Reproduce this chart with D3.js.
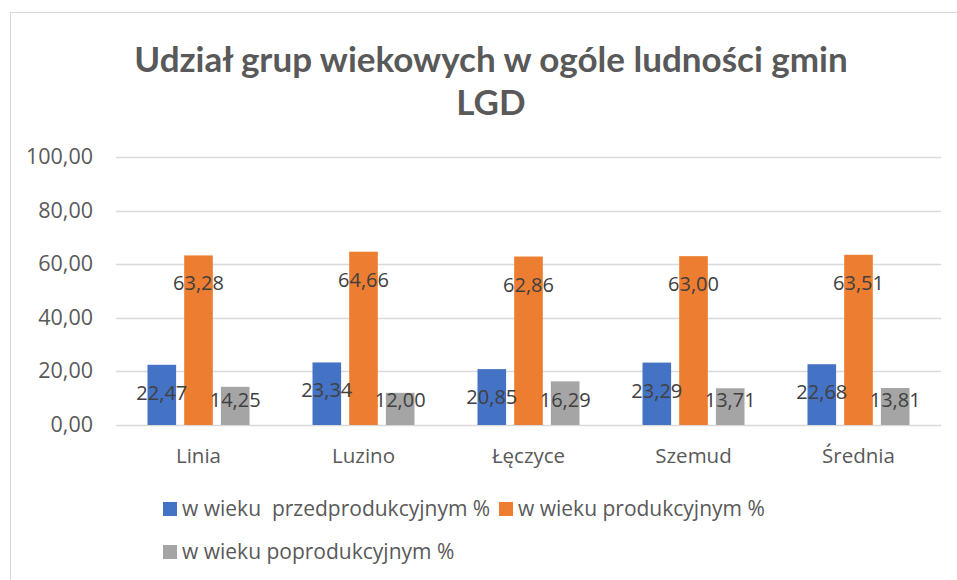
<!DOCTYPE html>
<html>
<head>
<meta charset="utf-8">
<script src="https://cdn.jsdelivr.net/npm/d3@7"></script>
<style>
  body { margin: 0; background: #fff; }
  text { white-space: pre; }
</style>
</head>
<body>
<div id="chart"></div>
<script>
// data
const categories = ['Linia', 'Luzino', 'Łęczyce', 'Szemud', 'Średnia'];
const seriesNames = ['w wieku  przedprodukcyjnym %', 'w wieku produkcyjnym %', 'w wieku poprodukcyjnym %'];
const przed = [22.47, 23.34, 20.85, 23.29, 22.68];
const prod = [63.28, 64.66, 62.86, 63.00, 63.51];
const poprod = [14.25, 12.00, 16.29, 13.71, 13.81];
const yTicks = [0, 20, 40, 60, 80, 100];
const colors = ['#4472C4', '#ED7D31', '#A5A5A5'];

const W = 957, H = 580;
const plot = {left: 116, right: 941, top: 157, bottom: 425};
const labelFont = '"Open Sans", "DejaVu Sans", sans-serif';

const values = [przed, prod, poprod];
const rows = categories.map((c, i) => ({
  cat: c,
  bars: seriesNames.map((s, j) => ({series: j, value: values[j][i]}))
}));

const fmt = v => v.toFixed(2).replace('.', ',');

const svg = d3.select('#chart')
  .append('svg')
  .attr('width', W)
  .attr('height', H);

// outer chart border
svg.append('rect')
  .attr('x', 10.5).attr('y', 12.5)
  .attr('width', W + 20).attr('height', H + 20)
  .attr('fill', '#fff')
  .attr('stroke', '#d9d9d9');

// title
const title = svg.append('text')
  .attr('text-anchor', 'middle')
  .attr('fill', '#595959')
  .attr('font-family', 'Lato, "Open Sans", sans-serif')
  .attr('font-weight', 'bold')
  .attr('font-size', '35px');
title.append('tspan').attr('x', 491).attr('y', 72).text('Udział grup wiekowych w ogóle ludności gmin');
title.append('tspan').attr('x', 491).attr('y', 115).text('LGD');

const x0 = d3.scaleBand()
  .domain(categories)
  .range([plot.left, plot.right]);

const x1 = d3.scaleBand()
  .domain(d3.range(seriesNames.length))
  .range([0, 102])
  .paddingInner(0.22);

const y = d3.scaleLinear()
  .domain([0, 100])
  .range([plot.bottom, plot.top]);

// gridlines
svg.append('g')
  .selectAll('line')
  .data(yTicks)
  .join('line')
    .attr('x1', plot.left).attr('x2', plot.right)
    .attr('y1', d => Math.round(y(d)) + 0.5)
    .attr('y2', d => Math.round(y(d)) + 0.5)
    .attr('stroke', '#d9d9d9')
    .attr('stroke-width', 1.5);

// y labels
svg.append('g')
  .selectAll('text')
  .data(yTicks)
  .join('text')
    .attr('x', 93)
    .attr('y', d => y(d) + 7)
    .attr('text-anchor', 'end')
    .attr('fill', '#595959')
    .attr('font-family', labelFont)
    .attr('font-size', '21.5px')
    .text(d => fmt(d));

// bars grouped by category
const groups = svg.append('g')
  .selectAll('g')
  .data(rows)
  .join('g')
    .attr('transform', d => `translate(${x0(d.cat) + (x0.bandwidth() - 102) / 2},0)`);

groups.selectAll('rect')
  .data(d => d.bars)
  .join('rect')
    .attr('x', d => x1(d.series))
    .attr('y', d => y(d.value))
    .attr('width', x1.bandwidth())
    .attr('height', d => y(0) - y(d.value))
    .attr('fill', d => colors[d.series]);

groups.selectAll('text')
  .data(d => d.bars)
  .join('text')
    .attr('x', d => x1(d.series) + x1.bandwidth() / 2)
    .attr('y', d => Math.min(y(d.value) + 35, y(0) - 18))
    .attr('text-anchor', 'middle')
    .attr('fill', '#404040')
    .attr('font-family', labelFont)
    .attr('font-size', '20px')
    .text(d => fmt(d.value));

// x axis labels
svg.append('g')
  .selectAll('text')
  .data(categories)
  .join('text')
    .attr('x', d => x0(d) + x0.bandwidth() / 2)
    .attr('y', 463)
    .attr('text-anchor', 'middle')
    .attr('fill', '#595959')
    .attr('font-family', labelFont)
    .attr('font-size', '20.5px')
    .text(d => d);

// legend
const legendPos = [{x: 163, y: 509}, {x: 499, y: 509}, {x: 163, y: 552}];
const legend = svg.append('g')
  .selectAll('g')
  .data(seriesNames)
  .join('g')
    .attr('transform', (d, i) => `translate(${legendPos[i].x},${legendPos[i].y})`);

legend.append('rect')
  .attr('x', 0).attr('y', -7)
  .attr('width', 14).attr('height', 14)
  .attr('fill', (d, i) => colors[i]);

legend.append('text')
  .attr('x', 19)
  .attr('y', 7)
  .attr('fill', '#595959')
  .attr('font-family', labelFont)
  .attr('font-size', '21px')
  .text(d => d);
</script>
</body>
</html>
